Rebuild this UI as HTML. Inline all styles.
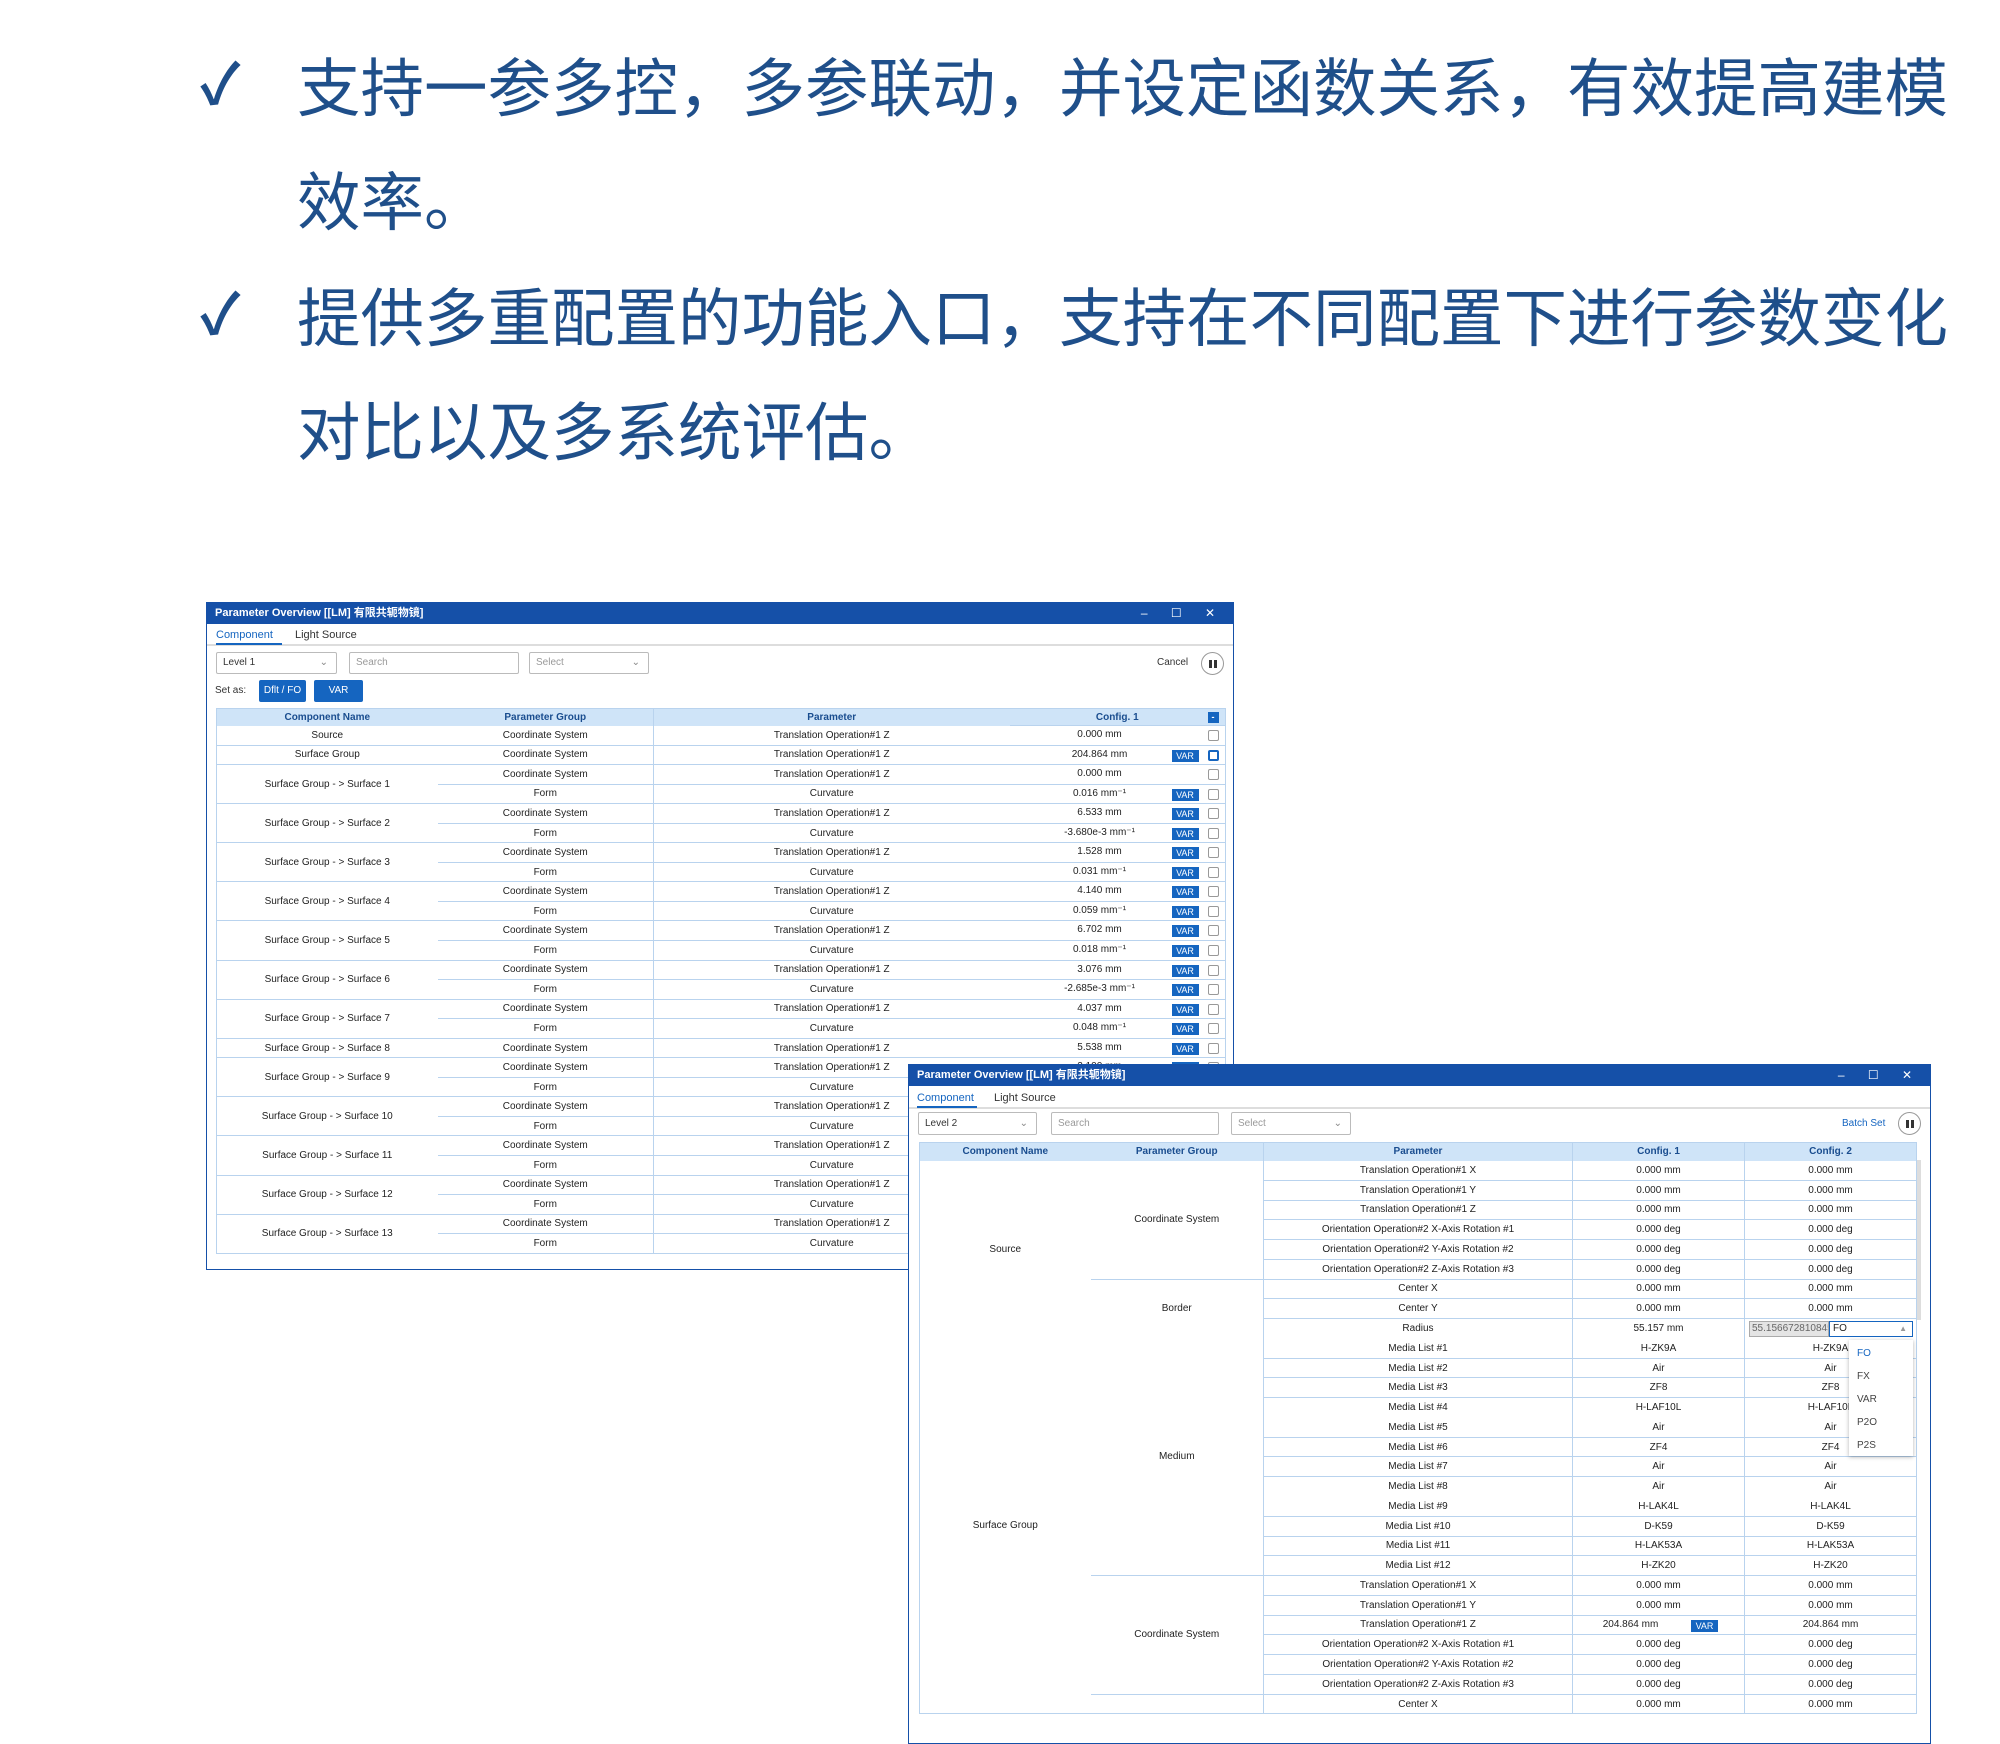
<!DOCTYPE html>
<html><head><meta charset="utf-8">
<style>
*{margin:0;padding:0;box-sizing:border-box}
body{width:2000px;height:1722px;background:#fff;position:relative;overflow:hidden;font-family:"Liberation Sans","Noto Sans CJK SC",sans-serif}
.para{position:absolute;left:297px;width:1700px;font-size:63.5px;line-height:114px;color:#1f4f8a;font-family:"Liberation Sans","Noto Sans CJK SC",sans-serif}
.chk{position:absolute;left:200px;font-size:56px;color:#1f4f8a;font-weight:bold}
.win{position:absolute;background:#fff;border:1px solid #1550a8;overflow:hidden}
.tb{position:absolute;left:0;top:0;right:0;height:21px;background:#1550a8;color:#fff;font-size:11px;font-weight:bold;line-height:21px;padding-left:8px}
.tb .ctl{position:absolute;right:8px;top:0;letter-spacing:10px;font-weight:normal;font-size:12px}
.tabs{position:absolute;left:0;right:0;font-size:11px;color:#333}
.tabs span{position:absolute}
.tline{position:absolute;left:0;right:0;height:2px;background:#ddd}
.uline{position:absolute;height:2px;background:#1565c0}
.inp{position:absolute;border:1px solid #bbb;border-radius:2px;font-size:10px;color:#999;padding-left:6px;background:#fff}
.inp .v{position:absolute;right:8px;top:0;color:#888}
.btn{position:absolute;background:#1565c0;color:#fff;font-size:10px;text-align:center;border-radius:2px}
.circ{position:absolute;border:1px solid #999;border-radius:50%;background:#fff}
.circ:after{content:"";position:absolute;left:7px;top:7px;width:8px;height:8px;background:linear-gradient(90deg,#333 0 3px,transparent 3px 5px,#333 5px)}
table{position:absolute;border-collapse:collapse;table-layout:fixed;font-size:10px;color:#222}
td,th{text-align:center;white-space:nowrap;overflow:hidden;padding:0}
th{background:#cfe4f8;color:#1a4d8f;font-weight:bold;font-size:10px}
.t1 td{height:19.55px}
.t1 .g,.t1 .p,.t1 .c{border-bottom:1px solid #b9d3ee}
.t1 .n{border-bottom:1px solid #b9d3ee}
.t1 .p{border-left:1px solid #b9d3ee}
.c{position:relative}
.c .val{position:absolute;left:15px;width:150px;text-align:center;top:3px}
.c .var{position:absolute;left:162px;top:4px;width:27px;height:12px;background:#1565c0;color:#fff;font-size:9px;line-height:12px;text-align:center}
.c .cb{position:absolute;left:198px;top:4px;width:11px;height:11px;border:1px solid #999;border-radius:2px;background:#fff}
.c .cb.on{border:2px solid #1565c0}
.t2 td{height:19.77px}
.t2 .p,.t2 .c1,.t2 .c2{border-bottom:1px solid #b9d3ee}
.t2 .p,.t2 .c1,.t2 .c2{border-left:1px solid #b9d3ee}
.t2 .g{border-bottom:1px solid #b9d3ee}
.t2 .nb{border-bottom:none}
</style></head><body>

<div class="chk" style="top:40px">✓</div>
<div class="para" style="top:33px">支持一参多控，多参联动，并设定函数关系，有效提高建模<br>效率。</div>
<div class="chk" style="top:270px">✓</div>
<div class="para" style="top:263px">提供多重配置的功能入口，支持在不同配置下进行参数变化<br>对比以及多系统评估。</div>

<!-- Window 1 -->
<div class="win" style="left:206px;top:602px;width:1028px;height:668px">
  <div class="tb">Parameter Overview [[LM] 有限共轭物镜]<span class="ctl">– ☐ ✕</span></div>
  <div class="tabs" style="top:26px"><span style="left:9px;color:#1565c0">Component</span><span style="left:88px">Light Source</span></div>
  <div class="tline" style="top:41px"></div><div class="uline" style="top:40px;left:9px;width:66px"></div>
  <div class="inp" style="left:9px;top:49px;width:121px;height:22px;line-height:20px;color:#333">Level 1<span class="v">⌄</span></div>
  <div class="inp" style="left:142px;top:49px;width:170px;height:22px;line-height:20px">Search</div>
  <div class="inp" style="left:322px;top:49px;width:120px;height:22px;line-height:20px">Select<span class="v">⌄</span></div>
  <div style="position:absolute;left:950px;top:54px;font-size:10px;color:#333">Cancel</div>
  <div class="circ" style="left:994px;top:49px;width:23px;height:23px"></div>
  <div style="position:absolute;left:8px;top:82px;font-size:10px;color:#333">Set as:</div>
  <div class="btn" style="left:52px;top:77px;width:47px;height:22px;line-height:22px">Dflt / FO</div>
  <div class="btn" style="left:107px;top:77px;width:49px;height:22px;line-height:22px">VAR</div>
  <table class="t1" style="left:9px;top:105px;width:1009px;border:1px solid #b9d3ee">
    <colgroup><col style="width:221px"><col style="width:216px"><col style="width:356px"><col style="width:216px"></colgroup>
    <tr><th style="height:17px">Component Name</th><th>Parameter Group</th><th style="border-left:1px solid #b9d3ee">Parameter</th><th class="c">Config. 1<span style="position:absolute;left:198px;top:3px;width:11px;height:11px;background:#1565c0;color:#fff;font-size:9px;line-height:10px">-</span></th></tr>
    <tr><td class="n">Source</td><td class="g">Coordinate System</td><td class="p">Translation Operation#1 Z</td><td class="c"><span class="val">0.000 mm</span><span class="cb"></span></td></tr>
    <tr><td class="n">Surface Group</td><td class="g">Coordinate System</td><td class="p">Translation Operation#1 Z</td><td class="c"><span class="val">204.864 mm</span><span class="var">VAR</span><span class="cb on"></span></td></tr>
    <tr><td class="n" rowspan="2">Surface Group - &gt; Surface 1</td><td class="g">Coordinate System</td><td class="p">Translation Operation#1 Z</td><td class="c"><span class="val">0.000 mm</span><span class="cb"></span></td></tr>
    <tr><td class="g">Form</td><td class="p">Curvature</td><td class="c"><span class="val">0.016 mm⁻¹</span><span class="var">VAR</span><span class="cb"></span></td></tr>
    <tr><td class="n" rowspan="2">Surface Group - &gt; Surface 2</td><td class="g">Coordinate System</td><td class="p">Translation Operation#1 Z</td><td class="c"><span class="val">6.533 mm</span><span class="var">VAR</span><span class="cb"></span></td></tr>
    <tr><td class="g">Form</td><td class="p">Curvature</td><td class="c"><span class="val">-3.680e-3 mm⁻¹</span><span class="var">VAR</span><span class="cb"></span></td></tr>
    <tr><td class="n" rowspan="2">Surface Group - &gt; Surface 3</td><td class="g">Coordinate System</td><td class="p">Translation Operation#1 Z</td><td class="c"><span class="val">1.528 mm</span><span class="var">VAR</span><span class="cb"></span></td></tr>
    <tr><td class="g">Form</td><td class="p">Curvature</td><td class="c"><span class="val">0.031 mm⁻¹</span><span class="var">VAR</span><span class="cb"></span></td></tr>
    <tr><td class="n" rowspan="2">Surface Group - &gt; Surface 4</td><td class="g">Coordinate System</td><td class="p">Translation Operation#1 Z</td><td class="c"><span class="val">4.140 mm</span><span class="var">VAR</span><span class="cb"></span></td></tr>
    <tr><td class="g">Form</td><td class="p">Curvature</td><td class="c"><span class="val">0.059 mm⁻¹</span><span class="var">VAR</span><span class="cb"></span></td></tr>
    <tr><td class="n" rowspan="2">Surface Group - &gt; Surface 5</td><td class="g">Coordinate System</td><td class="p">Translation Operation#1 Z</td><td class="c"><span class="val">6.702 mm</span><span class="var">VAR</span><span class="cb"></span></td></tr>
    <tr><td class="g">Form</td><td class="p">Curvature</td><td class="c"><span class="val">0.018 mm⁻¹</span><span class="var">VAR</span><span class="cb"></span></td></tr>
    <tr><td class="n" rowspan="2">Surface Group - &gt; Surface 6</td><td class="g">Coordinate System</td><td class="p">Translation Operation#1 Z</td><td class="c"><span class="val">3.076 mm</span><span class="var">VAR</span><span class="cb"></span></td></tr>
    <tr><td class="g">Form</td><td class="p">Curvature</td><td class="c"><span class="val">-2.685e-3 mm⁻¹</span><span class="var">VAR</span><span class="cb"></span></td></tr>
    <tr><td class="n" rowspan="2">Surface Group - &gt; Surface 7</td><td class="g">Coordinate System</td><td class="p">Translation Operation#1 Z</td><td class="c"><span class="val">4.037 mm</span><span class="var">VAR</span><span class="cb"></span></td></tr>
    <tr><td class="g">Form</td><td class="p">Curvature</td><td class="c"><span class="val">0.048 mm⁻¹</span><span class="var">VAR</span><span class="cb"></span></td></tr>
    <tr><td class="n">Surface Group - &gt; Surface 8</td><td class="g">Coordinate System</td><td class="p">Translation Operation#1 Z</td><td class="c"><span class="val">5.538 mm</span><span class="var">VAR</span><span class="cb"></span></td></tr>
    <tr><td class="n" rowspan="2">Surface Group - &gt; Surface 9</td><td class="g">Coordinate System</td><td class="p">Translation Operation#1 Z</td><td class="c"><span class="val">2.100 mm</span><span class="var">VAR</span><span class="cb"></span></td></tr>
    <tr><td class="g">Form</td><td class="p">Curvature</td><td class="c"></td></tr>
    <tr><td class="n" rowspan="2">Surface Group - &gt; Surface 10</td><td class="g">Coordinate System</td><td class="p">Translation Operation#1 Z</td><td class="c"></td></tr>
    <tr><td class="g">Form</td><td class="p">Curvature</td><td class="c"></td></tr>
    <tr><td class="n" rowspan="2">Surface Group - &gt; Surface 11</td><td class="g">Coordinate System</td><td class="p">Translation Operation#1 Z</td><td class="c"></td></tr>
    <tr><td class="g">Form</td><td class="p">Curvature</td><td class="c"></td></tr>
    <tr><td class="n" rowspan="2">Surface Group - &gt; Surface 12</td><td class="g">Coordinate System</td><td class="p">Translation Operation#1 Z</td><td class="c"></td></tr>
    <tr><td class="g">Form</td><td class="p">Curvature</td><td class="c"></td></tr>
    <tr><td class="n" rowspan="2">Surface Group - &gt; Surface 13</td><td class="g">Coordinate System</td><td class="p">Translation Operation#1 Z</td><td class="c"></td></tr>
    <tr><td class="g">Form</td><td class="p">Curvature</td><td class="c"></td></tr>
  </table>
</div>

<!-- Window 2 -->
<div class="win" style="left:908px;top:1064px;width:1023px;height:680px">
  <div class="tb">Parameter Overview [[LM] 有限共轭物镜]<span class="ctl">– ☐ ✕</span></div>
  <div class="tabs" style="top:27px"><span style="left:8px;color:#1565c0">Component</span><span style="left:85px">Light Source</span></div>
  <div class="tline" style="top:42px"></div><div class="uline" style="top:41px;left:8px;width:60px"></div>
  <div class="inp" style="left:9px;top:47px;width:119px;height:23px;line-height:21px;color:#333">Level 2<span class="v">⌄</span></div>
  <div class="inp" style="left:142px;top:47px;width:168px;height:23px;line-height:21px">Search</div>
  <div class="inp" style="left:322px;top:47px;width:120px;height:23px;line-height:21px">Select<span class="v">⌄</span></div>
  <div style="position:absolute;left:933px;top:53px;font-size:10px;color:#1565c0">Batch Set</div>
  <div class="circ" style="left:989px;top:47px;width:23px;height:23px"></div>
  <div style="position:absolute;left:1007px;top:95px;width:5px;height:160px;background:#ddd"></div>
  <table class="t2" style="left:10px;top:77px;width:997px;border:1px solid #b9d3ee">
    <colgroup><col style="width:171px"><col style="width:173px"><col style="width:309px"><col style="width:172px"><col style="width:172px"></colgroup>
    <tr><th style="height:18px">Component Name</th><th>Parameter Group</th><th style="border-left:1px solid #b9d3ee">Parameter</th><th style="border-left:1px solid #b9d3ee">Config. 1</th><th style="border-left:1px solid #b9d3ee">Config. 2</th></tr>
    <tr><td rowspan="9" class="n">Source</td><td rowspan="6" class="g">Coordinate System</td><td class="p">Translation Operation#1 X</td><td class="c1">0.000 mm</td><td class="c2">0.000 mm</td></tr>
    <tr><td class="p">Translation Operation#1 Y</td><td class="c1">0.000 mm</td><td class="c2">0.000 mm</td></tr>
    <tr><td class="p">Translation Operation#1 Z</td><td class="c1">0.000 mm</td><td class="c2">0.000 mm</td></tr>
    <tr><td class="p">Orientation Operation#2 X-Axis Rotation #1</td><td class="c1">0.000 deg</td><td class="c2">0.000 deg</td></tr>
    <tr><td class="p">Orientation Operation#2 Y-Axis Rotation #2</td><td class="c1">0.000 deg</td><td class="c2">0.000 deg</td></tr>
    <tr><td class="p">Orientation Operation#2 Z-Axis Rotation #3</td><td class="c1">0.000 deg</td><td class="c2">0.000 deg</td></tr>
    <tr><td rowspan="3" class="g nb">Border</td><td class="p">Center X</td><td class="c1">0.000 mm</td><td class="c2">0.000 mm</td></tr>
    <tr><td class="p">Center Y</td><td class="c1">0.000 mm</td><td class="c2">0.000 mm</td></tr>
    <tr><td class="p nb">Radius</td><td class="c1 nb">55.157 mm</td><td class="c2 nb" style="position:relative"></td></tr>
    <tr><td rowspan="19" class="n">Surface Group</td><td rowspan="12" class="g">Medium</td><td class="p">Media List #1</td><td class="c1">H-ZK9A</td><td class="c2">H-ZK9A</td></tr>
    <tr><td class="p">Media List #2</td><td class="c1">Air</td><td class="c2">Air</td></tr>
    <tr><td class="p">Media List #3</td><td class="c1">ZF8</td><td class="c2">ZF8</td></tr>
    <tr><td class="p nb">Media List #4</td><td class="c1 nb">H-LAF10L</td><td class="c2 nb">H-LAF10L</td></tr>
    <tr><td class="p">Media List #5</td><td class="c1">Air</td><td class="c2">Air</td></tr>
    <tr><td class="p">Media List #6</td><td class="c1">ZF4</td><td class="c2">ZF4</td></tr>
    <tr><td class="p">Media List #7</td><td class="c1">Air</td><td class="c2">Air</td></tr>
    <tr><td class="p nb">Media List #8</td><td class="c1 nb">Air</td><td class="c2 nb">Air</td></tr>
    <tr><td class="p">Media List #9</td><td class="c1">H-LAK4L</td><td class="c2">H-LAK4L</td></tr>
    <tr><td class="p">Media List #10</td><td class="c1">D-K59</td><td class="c2">D-K59</td></tr>
    <tr><td class="p">Media List #11</td><td class="c1">H-LAK53A</td><td class="c2">H-LAK53A</td></tr>
    <tr><td class="p">Media List #12</td><td class="c1">H-ZK20</td><td class="c2">H-ZK20</td></tr>
    <tr><td rowspan="6" class="g">Coordinate System</td><td class="p">Translation Operation#1 X</td><td class="c1">0.000 mm</td><td class="c2">0.000 mm</td></tr>
    <tr><td class="p">Translation Operation#1 Y</td><td class="c1">0.000 mm</td><td class="c2">0.000 mm</td></tr>
    <tr><td class="p">Translation Operation#1 Z</td><td class="c1" style="position:relative"><span style="position:relative;left:-28px">204.864 mm</span><span style="position:absolute;left:118px;top:4px;width:27px;height:12px;background:#1565c0;color:#fff;font-size:9px;line-height:12px">VAR</span></td><td class="c2">204.864 mm</td></tr>
    <tr><td class="p">Orientation Operation#2 X-Axis Rotation #1</td><td class="c1">0.000 deg</td><td class="c2">0.000 deg</td></tr>
    <tr><td class="p">Orientation Operation#2 Y-Axis Rotation #2</td><td class="c1">0.000 deg</td><td class="c2">0.000 deg</td></tr>
    <tr><td class="p">Orientation Operation#2 Z-Axis Rotation #3</td><td class="c1">0.000 deg</td><td class="c2">0.000 deg</td></tr>
    <tr><td class="g"></td><td class="p">Center X</td><td class="c1">0.000 mm</td><td class="c2">0.000 mm</td></tr>
  </table>
  <div style="position:absolute;left:840px;top:256px;width:80px;height:16px;background:#e4e4e4;border:1px solid #aaa;font-size:10px;color:#666;line-height:14px;overflow:hidden;white-space:nowrap;padding-left:2px">55.15667281084546</div>
  <div style="position:absolute;left:920px;top:256px;width:84px;height:16px;background:#fff;border:1px solid #1565c0;font-size:10px;line-height:14px;padding-left:3px;color:#222">FO<span style="position:absolute;right:5px;color:#999;font-size:8px">▲</span></div>
  <div style="position:absolute;left:940px;top:275px;width:64px;height:116px;background:#fff;box-shadow:0 1px 4px rgba(0,0,0,.3);font-size:10px;color:#444;line-height:23px;padding:2px 0 0 8px">
    <div style="color:#1565c0">FO</div><div>FX</div><div>VAR</div><div>P2O</div><div>P2S</div>
  </div>
</div>
</body></html>
